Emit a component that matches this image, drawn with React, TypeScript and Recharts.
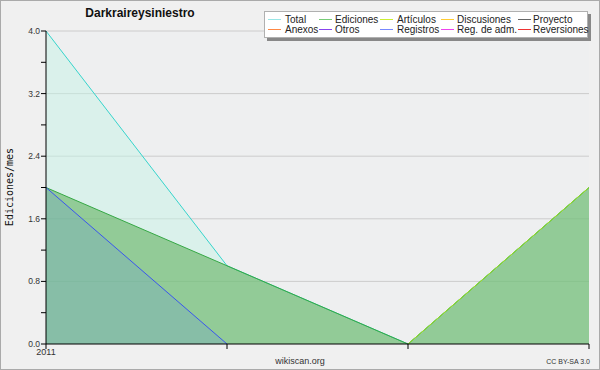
import React from "react";
import { AreaChart, Area, XAxis, YAxis, CartesianGrid } from "recharts";

const xLabels = ["2011", "", "", ""];
const totalValues = [4, 1, 0, 2];
const edicionesValues = [2, 1, 0, 2];
const articulosValues: (number | null)[] = [null, null, 0, 2];
const registrosValues: (number | null)[] = [2, 0, null, null];

const yTicks = [0, 0.4, 0.8, 1.2, 1.6, 2.0, 2.4, 2.8, 3.2, 3.6, 4.0];
const gridValues = [0.8, 1.6, 2.4, 3.2, 4.0];

const legendNames = [
  ["Total", "Ediciones", "Artículos", "Discusiones", "Proyecto"],
  ["Anexos", "Otros", "Registros", "Reg. de adm.", "Reversiones"],
];
const legendColors = [
  ["#99e6e6", "#77cc77", "#ccee33", "#ffcc33", "#666666"],
  ["#ff8844", "#8844ee", "#7788ff", "#ee44ee", "#ee3333"],
];
const legendLineX = [268, 319, 380, 441, 518];
const legendTextX = [285, 335, 397, 457, 533];

const data = xLabels.map((label, i) => ({
  i,
  label,
  total: totalValues[i],
  ediciones: edicionesValues[i],
  articulos: articulosValues[i],
  registros: registrosValues[i],
}));

const FONT = "'Liberation Sans', Arial, sans-serif";

const YTick = (props: any) => {
  const { x, y, payload } = props;
  const v = payload.value as number;
  const major = Math.round(v * 10) % 8 === 0;
  if (!major) return <g />;
  return (
    <text x={x} y={y} dy={3} textAnchor="end" fontSize={8.5} fontFamily={FONT} fill="#333">
      {v.toFixed(1)}
    </text>
  );
};

const XTick = (props: any) => {
  const { x, y, payload } = props;
  const label = xLabels[payload.value] ?? "";
  return (
    <text x={x} y={y} dy={6} textAnchor="middle" fontSize={9} fontFamily={FONT} fill="#333">
      {label}
    </text>
  );
};

export default function App() {
  return (
    <div style={{ position: "absolute", left: 0, top: 0, width: 600, height: 370, background: "#f0f0f0" }}>
      <div
        style={{
          position: "absolute",
          left: 0,
          top: 0,
          width: 600,
          height: 370,
          boxSizing: "border-box",
          border: "1px solid #aaaaaa",
        }}
      />
      <div style={{ position: "absolute", left: 0, top: 0 }}>
        <AreaChart width={600} height={370} data={data} margin={{ top: 31, right: 11, bottom: 0, left: 0 }}>
          <CartesianGrid
            vertical={false}
            horizontalValues={gridValues}
            stroke="#cccccc"
            fill="#eeeff0"
          />
          <XAxis
            dataKey="i"
            type="number"
            domain={[0, 3]}
            ticks={[0, 1, 2, 3]}
            height={26}
            tickSize={5}
            tickMargin={0}
            stroke="#000"
            tickLine={{ stroke: "#000" }}
            axisLine={{ stroke: "#000" }}
            tick={<XTick />}
            interval={0}
          />
          <YAxis
            type="number"
            domain={[0, 4]}
            ticks={yTicks}
            width={46}
            tickSize={5}
            tickMargin={1}
            stroke="#000"
            tickLine={{ stroke: "#000" }}
            axisLine={{ stroke: "#000" }}
            tick={<YTick />}
            interval={0}
          />
          <Area
            dataKey="total"
            type="linear"
            stroke="#36d4cc"
            strokeWidth={1}
            fill="#c6f3e6"
            fillOpacity={0.5}
            isAnimationActive={false}
            dot={false}
            activeDot={false}
          />
          <Area
            dataKey="ediciones"
            type="linear"
            stroke="#36a845"
            strokeWidth={1}
            fill="#4aa543"
            fillOpacity={0.5}
            isAnimationActive={false}
            dot={false}
            activeDot={false}
          />
          <Area
            dataKey="registros"
            type="linear"
            stroke="#3a55ee"
            strokeWidth={1}
            fill="#6da3cc"
            fillOpacity={0.3}
            isAnimationActive={false}
            dot={false}
            activeDot={false}
          />
          <Area
            dataKey="articulos"
            type="linear"
            stroke="#a6e020"
            strokeWidth={1}
            fill="none"
            fillOpacity={0}
            isAnimationActive={false}
            dot={false}
            activeDot={false}
          />
        </AreaChart>
      </div>
      <svg
        width={600}
        height={370}
        style={{ position: "absolute", left: 0, top: 0, pointerEvents: "none" }}
      >
        <text x={140} y={17} textAnchor="middle" fontSize={12} fontWeight="bold" fontFamily={FONT} fill="#111">
          Darkraireysiniestro
        </text>
        <text
          x={13}
          y={187}
          transform="rotate(-90 13 187)"
          textAnchor="middle"
          fontSize={10}
          fontFamily="'DejaVu Sans Mono', monospace"
          fill="#111"
        >
          Ediciones/mes
        </text>
        <rect x={267} y={14} width={324} height={27} fill="#888888" />
        <rect x={264.5} y={11.5} width={323} height={26} fill="#ffffff" stroke="#b0b0b0" />
        {legendNames.map((row, r) =>
          row.map((name, c) => (
            <g key={`${r}-${c}`}>
              <line
                x1={legendLineX[c]}
                x2={legendLineX[c] + 13}
                y1={19.5 + r * 10}
                y2={19.5 + r * 10}
                stroke={legendColors[r][c]}
                strokeWidth={1}
              />
              <text x={legendTextX[c]} y={22.5 + r * 10.5} fontSize={10} fontFamily={FONT} fill="#222">
                {name}
              </text>
            </g>
          ))
        )}
        <text x={300} y={364} textAnchor="middle" fontSize={9} fontFamily={FONT} fill="#333">
          wikiscan.org
        </text>
        <text x={590} y={364} textAnchor="end" fontSize={7} fontFamily={FONT} fill="#333">
          CC BY-SA 3.0
        </text>
      </svg>
    </div>
  );
}
